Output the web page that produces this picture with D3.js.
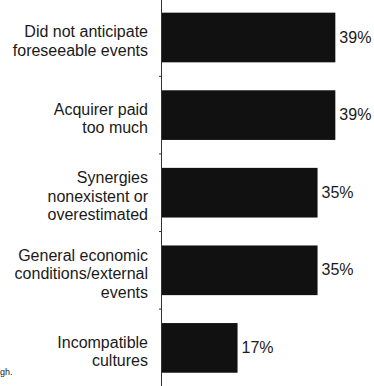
<!DOCTYPE html>
<html>
<head>
<meta charset="utf-8">
<script src="https://cdn.jsdelivr.net/npm/d3@7"></script>
<style>
    body { margin: 0; background: #fff; }
    svg { display: block; font-family: Arial, "Liberation Sans", sans-serif; }
</style>
</head>
<body>
<div id="chart"></div>
<script>
// categories (top to bottom), each one as its label lines
const categories = [
    ["Did not anticipate", "foreseeable events"],
    ["Acquirer paid", "too much"],
    ["Synergies", "nonexistent or", "overestimated"],
    ["General economic", "conditions/external", "events"],
    ["Incompatible", "cultures"]
];
const values = [39, 39, 35, 35, 17];
const footnote = "gh.";

function drawChart()
{
    const width = 374;
    const height = 386;
    const axisX = 162;
    const lineHeight = 18.5;

    const keys = d3.range(categories.length);
    const yScale = d3.scaleBand(keys, [-1.3, 386.7])
        .paddingInner(0.36)
        .paddingOuter(0.18);
    const xScale = d3.scaleLinear([0, 45], [axisX, axisX + 200]);

    const svg = d3.create("svg")
        .attr("width", width)
        .attr("height", height)
        .attr("viewBox", [0, 0, width, height]);

    // bars
    svg.append("g")
        .attr("fill", "#111")
        .selectAll("rect")
        .data(keys)
        .join("rect")
        .attr("x", xScale(0))
        .attr("y", i => yScale(i))
        .attr("width", i => xScale(values[i]) - xScale(0))
        .attr("height", yScale.bandwidth());

    // axis line with ticks between the bars
    const axis = svg.append("g")
        .attr("stroke", "#333")
        .attr("stroke-width", 1);
    axis.append("line")
        .attr("x1", axisX - 0.5).attr("x2", axisX - 0.5)
        .attr("y1", 0).attr("y2", height);
    axis.selectAll("line.tick")
        .data(keys.slice(1))
        .join("line")
        .attr("class", "tick")
        .attr("x1", axisX - 3).attr("x2", axisX)
        .attr("y1", i => yScale(i) - yScale.step() * yScale.paddingInner() / 2)
        .attr("y2", i => yScale(i) - yScale.step() * yScale.paddingInner() / 2);

    // category labels
    svg.append("g")
        .attr("font-size", 16)
        .attr("fill", "#1a1a1a")
        .attr("text-anchor", "end")
        .selectAll("text")
        .data(keys)
        .join("text")
        .attr("x", axisX - 14)
        .each(function(i) {
            const lines = categories[i];
            const mid = yScale(i) + yScale.bandwidth() / 2 + 9;
            const first = mid - (lines.length - 1) * lineHeight / 2;
            d3.select(this).selectAll("tspan")
                .data(lines)
                .join("tspan")
                .attr("x", axisX - 14)
                .attr("y", (d, j) => first + j * lineHeight)
                .text(d => d);
        });

    // value labels
    svg.append("g")
        .attr("font-size", 16)
        .attr("fill", "#1a1a1a")
        .selectAll("text")
        .data(keys)
        .join("text")
        .attr("x", i => xScale(values[i]) + 4)
        .attr("y", i => yScale(i) + yScale.bandwidth() / 2 + 5)
        .text(i => values[i] + "%");

    // clipped footnote
    svg.append("text")
        .attr("x", 0)
        .attr("y", 375)
        .attr("font-size", 9)
        .attr("fill", "#222")
        .text(footnote);

    return svg.node();
}

document.getElementById("chart").appendChild(drawChart());
</script>
</body>
</html>
